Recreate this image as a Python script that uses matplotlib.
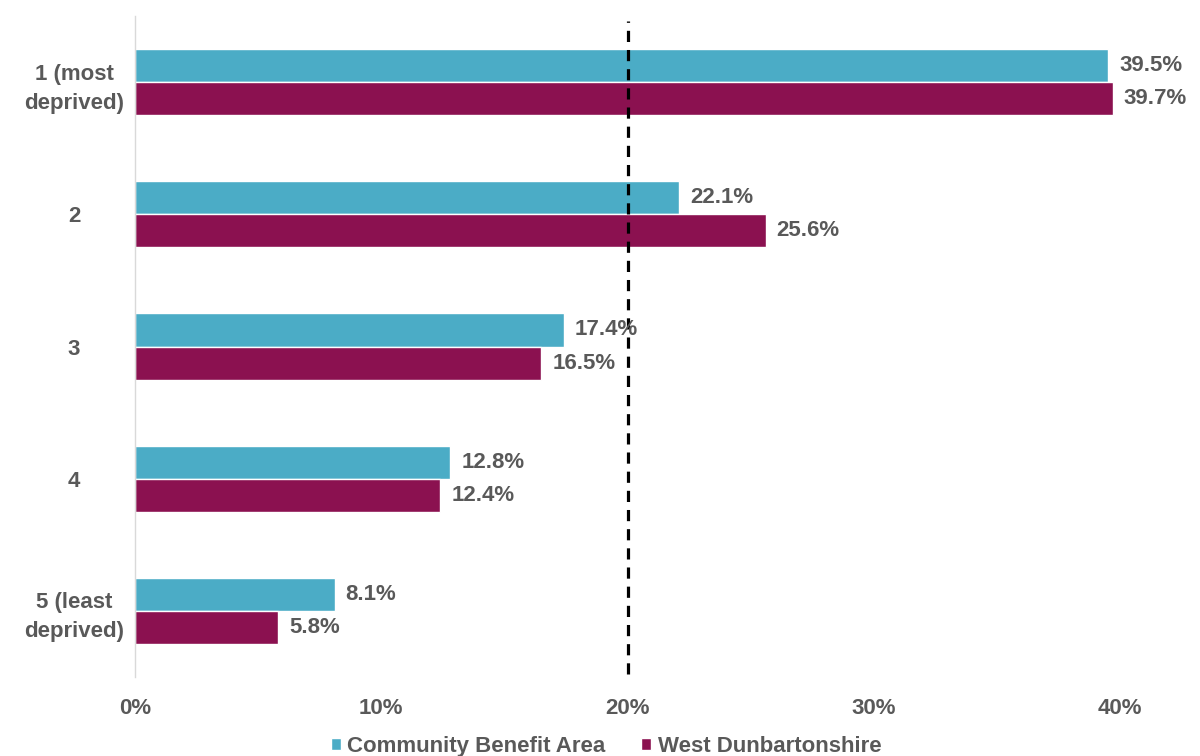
import matplotlib.pyplot as plt
import numpy as np

categories = ["1 (most\ndeprived)", "2", "3", "4", "5 (least\ndeprived)"]
cba = [39.5, 22.1, 17.4, 12.8, 8.1]
wdc = [39.7, 25.6, 16.5, 12.4, 5.8]
series_names = ["Community Benefit Area", "West Dunbartonshire"]
ticks = [0, 10, 20, 30, 40]
ref_line = 20

CYAN = "#4BACC6"
PLUM = "#8B1150"
GREY = "#595959"
FS = 16

plt.rcParams["font.family"] = ["Liberation Sans", "DejaVu Sans"]
plt.rcParams["font.weight"] = "bold"

fig = plt.figure(figsize=(12, 7.56), dpi=100)
ax = fig.add_axes([0.1125, 0.1045, 0.821, 0.8743])

y = np.arange(len(categories))
h = 0.25
b1 = ax.barh(y - h / 2, cba, height=h, color=CYAN, edgecolor="white", linewidth=1, label=series_names[0])
b2 = ax.barh(y + h / 2, wdc, height=h, color=PLUM, edgecolor="white", linewidth=1, label=series_names[1])

# value labels just right of each bar
for bars, vals in ((b1, cba), (b2, wdc)):
    for bar, v in zip(bars, vals):
        ax.text(v + 0.45, bar.get_y() + bar.get_height() / 2, f"{v:.1f}%",
                va="center", ha="left", fontsize=FS, color=GREY,
                fontweight="bold", clip_on=False)

ax.axvline(ref_line, ymin=0.005, ymax=0.993, color="black", linestyle=(0, (3.5, 2.5)), linewidth=2.3)

ax.set_xlim(0, 40)
ax.set_ylim(len(categories) - 0.5, -0.5)
ax.set_yticks(y)
ax.set_yticklabels(categories, fontsize=FS, color=GREY, fontweight="bold", linespacing=1.5)
ax.set_xticks(ticks)
ax.set_xticklabels([f"{t}%" for t in ticks], fontsize=FS, color=GREY, fontweight="bold")
ax.tick_params(axis="both", length=0)
ax.tick_params(axis="x", pad=15)
for lbl in ax.get_yticklabels():
    lbl.set_horizontalalignment("center")
    lbl.set_x(-0.057)

for s in ("top", "right", "bottom"):
    ax.spines[s].set_visible(False)
ax.spines["left"].set_color("#D9D9D9")
ax.spines["left"].set_linewidth(1)

leg = fig.legend(handles=[b1, b2], loc="lower center", bbox_to_anchor=(0.505, -0.028), ncol=2,
                 frameon=False, fontsize=FS, handlelength=0.45, handleheight=0.45,
                 handletextpad=0.3, columnspacing=1.6)
for t in leg.get_texts():
    t.set_color(GREY)

fig.savefig("out.png", dpi=100)
